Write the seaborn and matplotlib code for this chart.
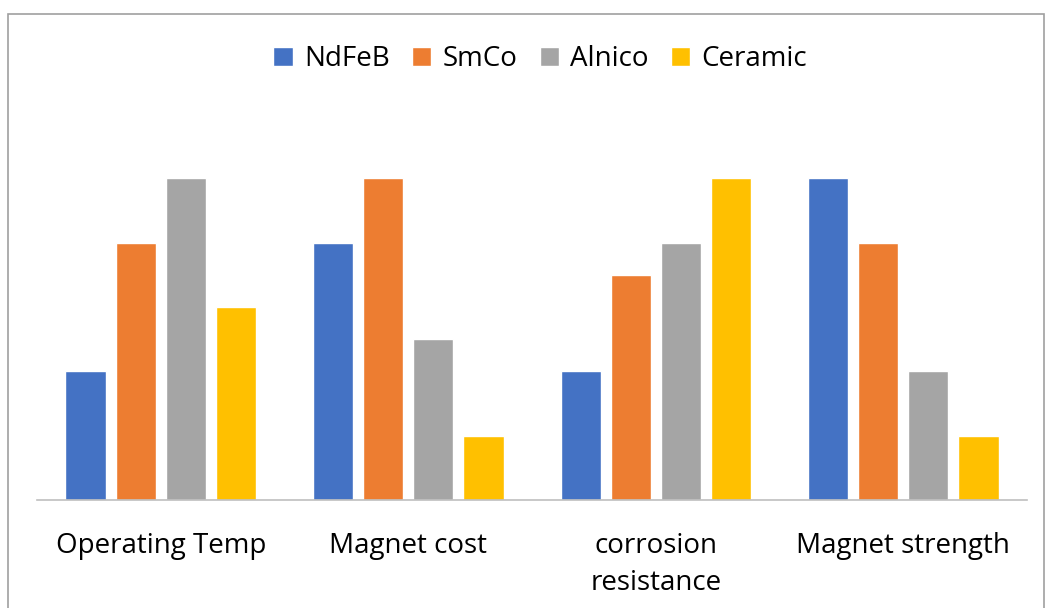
import pandas as pd
import matplotlib.pyplot as plt
import seaborn as sns
from matplotlib.patches import Rectangle

categories = ['Operating Temp', 'Magnet cost', 'corrosion\nresistance', 'Magnet strength']
materials = ['NdFeB', 'SmCo', 'Alnico', 'Ceramic']
ndfeb = [2, 4, 2, 5]
smco = [4, 5, 3.5, 4]
alnico = [5, 2.5, 4, 2]
ceramic = [3, 1, 5, 1]
colors = ['#4472C4', '#ED7D31', '#A5A5A5', '#FFC000']

df = pd.DataFrame({'category': categories * 4,
                   'material': [m for m in materials for _ in categories],
                   'value': ndfeb + smco + alnico + ceramic})

sns.set_style('white')
plt.rcParams['font.family'] = ['Open Sans', 'DejaVu Sans']
plt.rcParams['text.color'] = 'black'

fig = plt.figure(figsize=(10.47, 6.08), dpi=100)
ax = fig.add_axes([0.0353, 0.1776, 0.9457, 0.635])
sns.barplot(data=df, x='category', y='value', hue='material', order=categories,
            hue_order=materials, palette=colors, width=0.81, gap=0.2, ax=ax,
            saturation=1, errorbar=None)

ax.set_xlim(-0.5, 3.5)
ax.set_ylim(0, 6)
ax.set_yticks([])
ax.set_xlabel('')
ax.set_ylabel('')
for s in ['top', 'right', 'left']:
    ax.spines[s].set_visible(False)
ax.spines['bottom'].set_color('#BFBFBF')
ax.spines['bottom'].set_linewidth(1.2)
ax.tick_params(axis='x', length=0, pad=23, labelsize=20, labelcolor='black')
for t in ax.get_xticklabels():
    t.set_linespacing(1.45)

handles, labels = ax.get_legend_handles_labels()
ax.legend(handles, labels, loc='center', bbox_to_anchor=(0.516, 0.903),
          bbox_transform=fig.transFigure, ncol=4, frameon=False, fontsize=20,
          handlelength=0.7, handleheight=0.7, handletextpad=0.4, columnspacing=0.8)

fig.patches.append(Rectangle((8 / 1047, -0.05), 1036 / 1047, 1.027, transform=fig.transFigure,
                             fill=False, edgecolor='#A0A0A0', linewidth=1.2))

plt.savefig('out.png', dpi=100)
